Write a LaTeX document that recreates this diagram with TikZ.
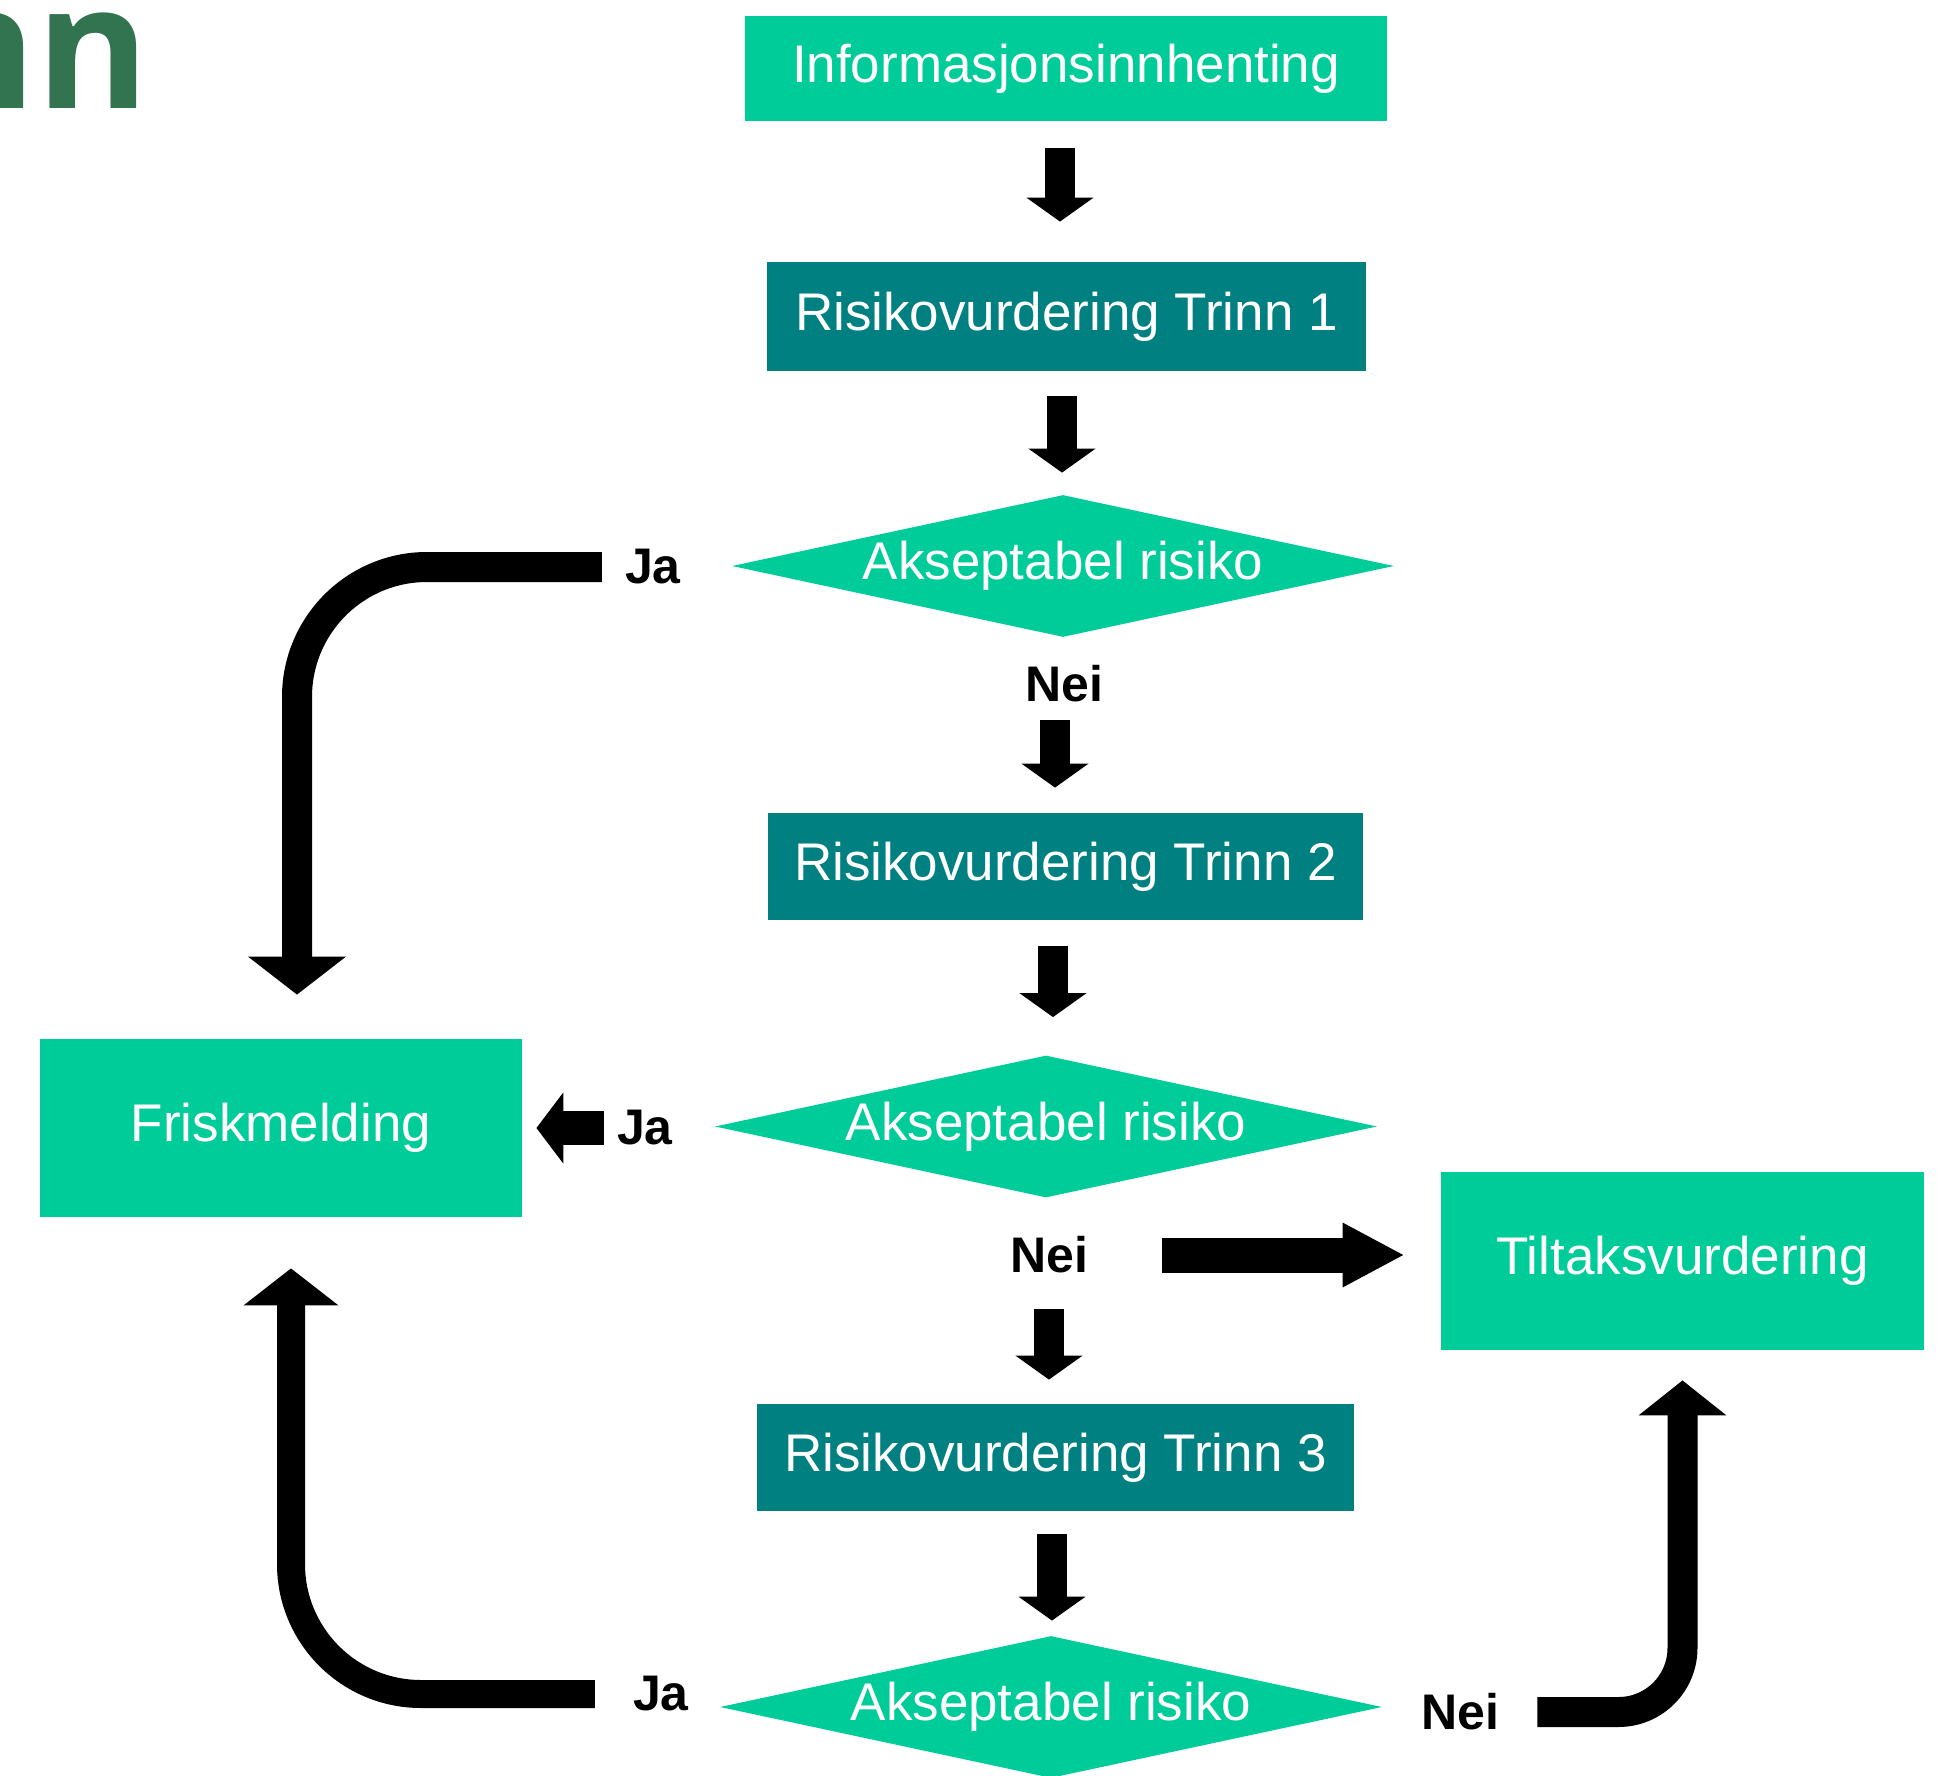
\documentclass[tikz,border=0pt]{standalone}
\usepackage{fontspec}
\setmainfont{Liberation Sans}
\newfontfamily\titlefont{Open Sans}
\usetikzlibrary{positioning,arrows.meta,shapes.geometric}
\definecolor{flowgreen}{RGB}{0,204,153}
\definecolor{flowteal}{RGB}{0,128,128}
\definecolor{titlegreen}{RGB}{50,115,80}

\begin{document}
\begin{tikzpicture}[
			x=0.5pt,
			y=-0.5pt,
			box/.style={
				rectangle,
				inner sep=0pt,
				text=white,
				font=\fontsize{26.5}{30}\selectfont
			},
			greenbox/.style={
				box,
				fill=flowgreen
			},
			tealbox/.style={
				box,
				fill=flowteal
			},
			decision/.style={
				diamond,
				fill=flowgreen,
				inner sep=0pt,
				shape aspect=4.66,
				minimum width=331pt,
				minimum height=71pt,
				text=white,
				font=\fontsize{26.5}{30}\selectfont
			},
			answer/.style={
				inner sep=0pt,
				font=\fontsize{25}{28}\selectfont\bfseries
			},
			flow/.style={
				line width=15pt,
				-{Triangle[width=33pt,length=12pt]}
			}
			]
			
			\useasboundingbox (0,0) rectangle (1940,1776);
			
			% Title
			\node[anchor=base east, inner sep=0pt, text=titlegreen, font=\titlefont\bfseries\fontsize{86}{90}\selectfont] (title) at (150,109) {nn};
			
			% Nodes
			\node[greenbox, minimum width=321pt, minimum height=52.5pt] (info) at (1066,68.5) {Informasjonsinnhenting};
			\node[tealbox, minimum width=299.5pt, minimum height=54.5pt] (trinn1) at (1066.5,316.5) {Risikovurdering Trinn 1};
			\node[decision] (dia1) at (1063,566) {Akseptabel risiko};
			\node[answer] (ja1) at (653,567) {Ja};
			\node[answer] (nei1) at (1064,684) {Nei};
			\node[tealbox, minimum width=297.5pt, minimum height=53.5pt] (trinn2) at (1065.5,866.5) {Risikovurdering Trinn 2};
			\node[decision] (dia2) at (1046,1126.5) {Akseptabel risiko};
			\node[answer] (ja2) at (645,1128) {Ja};
			\node[answer] (nei2) at (1049,1255) {Nei};
			\node[greenbox, minimum width=241pt, minimum height=89pt] (frisk) at (281,1128) {Friskmelding};
			\node[greenbox, minimum width=241.5pt, minimum height=89pt] (tilt) at (1682.5,1261) {Tiltaksvurdering};
			\node[tealbox, minimum width=298.5pt, minimum height=53.5pt] (trinn3) at (1055.5,1457.5) {Risikovurdering Trinn 3};
			\node[decision] (dia3) at (1051,1707) {Akseptabel risiko};
			\node[answer] (ja3) at (661,1694) {Ja};
			\node[answer] (nei3) at (1460,1712) {Nei};
			
			% Arrows
			\draw[flow, shorten <=13.5pt, shorten >=20pt] ([xshift=-3pt]info.south) -- ([xshift=-3pt]info.south |- trinn1.north);
			\draw[flow, shorten <=12.5pt, shorten >=11pt] ([xshift=-2.25pt]trinn1.south) -- ([xshift=-2.25pt]trinn1.south |- dia1.north);
			\draw[flow, shorten <=8.75pt, shorten >=12.5pt] ([xshift=-4.5pt]nei1.south) -- ([xshift=-4.5pt]nei1.south |- trinn2.north);
			\draw[flow, shorten <=13pt, shorten >=19pt] ([xshift=-6.25pt]trinn2.south) -- ([xshift=-6.25pt]trinn2.south |- dia2.north);
			\draw[flow, shorten <=17.75pt, shorten >=12pt] (nei2.south) -- (nei2.south |- trinn3.north);
			\draw[flow, shorten <=11.5pt, shorten >=7.5pt] ([xshift=-1.75pt]trinn3.south) -- ([xshift=-1.75pt]trinn3.south |- dia3.north);
			\draw[line width=15pt, rounded corners=65pt, -{Triangle[width=48pt,length=19pt]}, shorten <=11.5pt] (ja1.west) -| ([xshift=8pt,yshift=22pt]frisk.north);
			\draw[line width=17pt, -{Triangle[width=35pt,length=13.5pt]}, shorten <=6.5pt, shorten >=7pt] (ja2.west) -- (ja2.west -| frisk.east);
			\draw[line width=17.5pt, -{Triangle[width=30pt,length=31pt]}, shorten <=37pt, shorten >=18pt] (nei2.east) -- (nei2.east -| tilt.west);
			\draw[line width=14pt, rounded corners=65pt, -{Triangle[width=46.5pt,length=18.5pt]}, shorten <=19pt, shorten >=25.5pt] (ja3.west) -| ([xshift=5pt]frisk.south);
			\draw[line width=15pt, rounded corners=32pt, -{Triangle[width=43pt,length=17.5pt]}, shorten <=19pt, shorten >=15pt] (nei3.east) -| (tilt.south);
			
		\end{tikzpicture}
\end{document}
